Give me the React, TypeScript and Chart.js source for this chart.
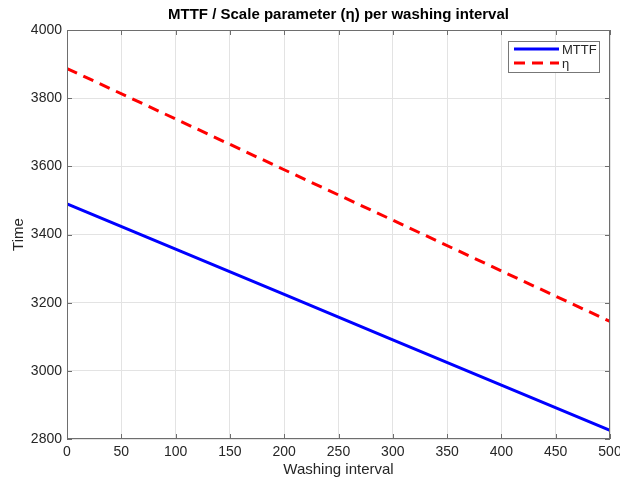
import React, { useEffect, useRef } from "react";
import { Chart, registerables } from "chart.js";

Chart.register(...registerables);

const washingInterval = [0, 100, 200, 300, 400, 500];
const mttf = [3490, 3357, 3224, 3091, 2958, 2825];
const eta = [3887, 3739, 3590, 3442, 3293, 3145];
const seriesLabels = ["MTTF", "η"];
const titleText = "MTTF / Scale parameter (η) per washing interval";
const xTitle = "Washing interval";
const yTitle = "Time";

const FONT = "'Liberation Sans', Arial, Helvetica, sans-serif";
const AXIS = "#6e6e6e";
const TEXT = "#262626";

const decorPlugin = {
  id: "decor",
  afterDraw(chart: any) {
    const { ctx, chartArea: a, scales } = chart;
    ctx.save();
    ctx.strokeStyle = AXIS;
    ctx.lineWidth = 1;
    ctx.strokeRect(a.left + 0.5, a.top + 0.5, a.right - a.left - 1, a.bottom - a.top - 1);
    const tl = 5;
    ctx.beginPath();
    scales.x.ticks.forEach((t: any) => {
      const px = Math.round(scales.x.getPixelForValue(t.value)) + 0.5;
      ctx.moveTo(px, a.bottom);
      ctx.lineTo(px, a.bottom - tl);
      ctx.moveTo(px, a.top);
      ctx.lineTo(px, a.top + tl);
    });
    scales.y.ticks.forEach((t: any) => {
      const py = Math.round(scales.y.getPixelForValue(t.value)) + 0.5;
      ctx.moveTo(a.left, py);
      ctx.lineTo(a.left + tl, py);
      ctx.moveTo(a.right, py);
      ctx.lineTo(a.right - tl, py);
    });
    ctx.stroke();

    ctx.fillStyle = "#000";
    ctx.font = `bold 15px ${FONT}`;
    ctx.textAlign = "center";
    ctx.textBaseline = "middle";
    ctx.fillText(titleText, (a.left + a.right) / 2, 15);

    ctx.fillStyle = TEXT;
    ctx.font = `15px ${FONT}`;
    ctx.fillText(xTitle, (a.left + a.right) / 2, 470);
    ctx.save();
    ctx.translate(19, (a.top + a.bottom) / 2);
    ctx.rotate(-Math.PI / 2);
    ctx.fillText(yTitle, 0, 0);
    ctx.restore();

    const lx = 508, ly = 41, lw = 91, lh = 31;
    ctx.fillStyle = "#fff";
    ctx.fillRect(lx, ly, lw, lh);
    ctx.strokeStyle = "#777";
    ctx.lineWidth = 1;
    ctx.strokeRect(lx + 0.5, ly + 0.5, lw, lh);
    const ds = chart.data.datasets;
    ds.forEach((d: any, i: number) => {
      const yy = ly + 8 + i * 14;
      ctx.strokeStyle = d.borderColor;
      ctx.lineWidth = 3;
      ctx.setLineDash(d.borderDash || []);
      ctx.beginPath();
      ctx.moveTo(lx + 6, yy);
      ctx.lineTo(lx + 51, yy);
      ctx.stroke();
      ctx.setLineDash([]);
      ctx.fillStyle = TEXT;
      ctx.font = `13px ${FONT}`;
      ctx.textAlign = "left";
      ctx.fillText(d.label, lx + 54, yy + 1);
    });
    ctx.restore();
  },
};

export default function App() {
  const ref = useRef<HTMLCanvasElement>(null);
  useEffect(() => {
    document.body.style.margin = "0";
    const chart = new Chart(ref.current!, {
      type: "line",
      data: {
        datasets: [
          {
            label: seriesLabels[0],
            data: washingInterval.map((x, i) => ({ x, y: mttf[i] })),
            borderColor: "#0000ff",
            borderWidth: 3,
            pointRadius: 0,
            tension: 0,
          },
          {
            label: seriesLabels[1],
            data: washingInterval.map((x, i) => ({ x, y: eta[i] })),
            borderColor: "#ff0000",
            borderWidth: 3,
            borderDash: [11, 7],
            pointRadius: 0,
            tension: 0,
          },
        ],
      },
      options: {
        animation: false,
        responsive: false,
        layout: { padding: { top: 30, right: 10, left: 0, bottom: 0 } },
        plugins: { legend: { display: false }, title: { display: false }, tooltip: { enabled: false } },
        scales: {
          x: {
            type: "linear",
            min: 0,
            max: 500,
            afterFit: (s: any) => { s.height = 38; s.paddingRight = 0; s.paddingLeft = 0; },
            ticks: { stepSize: 50, color: TEXT, padding: 5, font: { family: FONT, size: 14 }, maxRotation: 0, callback: (v: any) => String(v) },
            grid: { color: "#e3e3e3", drawTicks: false },
            border: { display: false },
          },
          y: {
            min: 2800,
            max: 4000,
            afterFit: (s: any) => { s.width = 67; s.paddingTop = 0; s.paddingBottom = 0; },
            ticks: { stepSize: 200, color: TEXT, padding: 5, font: { family: FONT, size: 14 }, callback: (v: any) => String(v) },
            grid: { color: "#e3e3e3", drawTicks: false },
            border: { display: false },
          },
        },
      },
      plugins: [decorPlugin],
    } as any);
    return () => chart.destroy();
  }, []);
  return (
    <div style={{ width: 620, height: 477 }}>
      <canvas ref={ref} width={620} height={477} style={{ width: 620, height: 477, display: "block" }} />
    </div>
  );
}
